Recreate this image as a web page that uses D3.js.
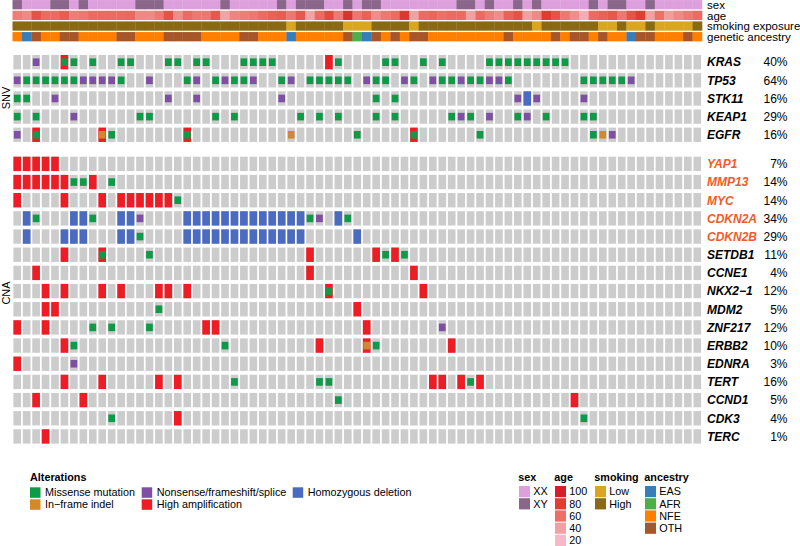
<!DOCTYPE html>
<html><head><meta charset="utf-8">
<script src="https://cdn.jsdelivr.net/npm/d3@7"></script>
<style>
body{margin:0;background:#fff}
svg{display:block;font-family:"Liberation Sans",Arial,Helvetica,sans-serif}
</style>
</head><body>
<svg id="chart" width="800" height="546"></svg>
<script>
// ---------------- DATA ----------------
const samples = d3.range(1, 74).map(i => "S" + i);

const sexRuns = [["XY",1],["XX",3],["XY",2],["XX",1],["XY",1],["XX",5],["XY",3],["XX",6],["XY",1],["XX",5],
  ["XY",1],["XX",1],["XY",3],["XX",2],["XY",1],["XX",1],["XY",2],["XX",8],["XY",2],["XX",1],["XY",1],["XX",2],
  ["XY",1],["XX",1],["XY",1],["XX",5],["XY",1],["XX",1],["XY",2],["XX",2],["XY",1],["XX",5]];

const ageValues = [55,50,72,62,62,68,55,57,62,62,62,62,63,50,50,56,72,48,62,57,57,70,38,52,55,57,62,66,68,57,
  70,38,62,75,56,88,57,66,48,57,62,85,40,62,64,60,62,62,40,62,55,48,66,72,40,50,82,72,57,48,
  30,62,66,70,57,72,80,40,60,42,50,56,62];

const smokingRuns = [["High",29],["Low",1],["High",5],["Low",3],["High",4],["Low",1],["High",12],["Low",1],
  ["High",6],["Low",2],["High",1],["Low",2],["High",1],["Low",4],["High",1]];

const ancestryRuns = [["NFE",1],["EAS",1],["OTH",1],["NFE",2],["OTH",2],["NFE",4],["OTH",2],["NFE",3],["OTH",4],
  ["NFE",4],["OTH",2],["NFE",3],["EAS",1],["NFE",5],["OTH",1],["AFR",1],["EAS",1],["OTH",1],["NFE",1],["OTH",1],
  ["NFE",1],["OTH",2],["NFE",8],["OTH",1],["NFE",4],["OTH",1],["NFE",1],["OTH",2],["NFE",1],["OTH",1],["NFE",2],
  ["EAS",1],["OTH",2],["NFE",3],["OTH",1],["NFE",1]];

// alteration calls: "sampleIndex:codes"  M missense, N nonsense/frameshift/splice, I in-frame indel, A high amp, D homdel
const snvGenes = ["KRAS","TP53","STK11","KEAP1","EGFR"];
const snvCalls = [
 "2:N 5:AM 6:M 8:M 11:M 12:M 16:M 17:M 19:M 20:M 24:M 25:M 26:M 27:M 33:A 34:M 39:M 40:M 43:M 45:M 50:M 51:M 52:M 53:M 54:M 55:M 56:M 57:M 58:M",
 "0:N 1:M 2:M 3:M 4:M 5:M 6:M 7:N 8:N 9:N 10:N 11:M 14:N 18:M 19:N 21:M 22:N 23:M 24:M 25:N 28:M 29:N 31:M 32:M 33:M 34:M 35:M 37:N 38:M 39:M 41:N 42:M 44:N 45:M 46:M 47:N 48:M 49:M 50:N 51:N 52:M 60:M 61:M 62:M 63:M 64:M 65:N",
 "0:M 1:M 4:N 16:N 19:N 28:N 38:M 40:M 53:N 54:D 55:N 60:N",
 "0:M 2:M 6:N 13:M 14:M 21:M 23:M 30:M 32:M 34:M 38:M 40:M 46:M 47:N 48:M 50:N 53:M 54:N 56:M 60:M 61:M",
 "0:N 2:AM 9:AI 10:M 18:AM 29:I 36:M 42:AM 49:M 61:M 62:I 63:N"
];
const cnaGenes = ["YAP1","MMP13","MYC","CDKN2A","CDKN2B","SETDB1","CCNE1","NKX2\u22121","MDM2","ZNF217","ERBB2","EDNRA","TERT","CCND1","CDK3","TERC"];
const cnaCalls = [
 "0:A 1:A 2:A 3:A 4:A",
 "0:A 1:A 2:A 3:A 4:A 5:A 6:M 7:M 8:A 10:M",
 "0:A 5:A 9:A 11:A 12:A 13:A 14:A 15:A 16:A 17:M",
 "1:D 2:M 6:D 7:D 8:M 11:D 12:D 13:N 18:D 19:D 20:D 21:D 22:D 23:D 24:D 25:D 26:D 27:D 28:D 29:D 30:D 31:M 32:N 34:D 35:M",
 "1:D 5:D 6:D 7:D 11:D 12:D 13:M 18:D 19:D 20:D 21:D 22:D 23:D 24:D 25:D 26:D 27:D 28:D 29:D 30:D 36:D",
 "5:A 9:AM 14:M 31:A 38:A 39:M 40:A 41:M",
 "2:A 31:A 42:A",
 "3:A 5:A 9:A 11:A 15:A 16:A 18:A 33:AM 43:A",
 "3:A 4:A 15:M 36:A",
 "0:A 3:A 8:M 10:M 14:M 20:A 21:A 37:A 45:N",
 "5:A 6:M 22:M 32:A 37:AI 38:M 46:A",
 "0:A 6:N",
 "5:A 9:A 15:A 17:A 23:M 32:M 33:M 44:A 45:A 47:A 48:M 49:A",
 "2:A 7:A 34:M 59:A",
 "10:M 17:A 60:M",
 "3:A"
];
const highlightGenes = ["YAP1","MMP13","MYC","CDKN2A","CDKN2B"];

const alterationTypes = ["Missense mutation","Nonsense/frameshift/splice","Homozygous deletion","In\u2212frame indel","High amplification"];
const alterationCodes = ["M","N","D","I","A"];
const alterationColors = ["#0f9a48","#7e4fa2","#4a6bbf","#d3892b","#ee1d25"];

const sexLevels = ["XX","XY"], sexColors = ["#dda0dd","#8b668b"];
const ageTicks = [100,80,60,40,20];
const ageStops = [20,40,60,80,100], ageStopColors = ["#f8b8c8","#f5a0a0","#f06e66","#e23e30","#d41f2a"];
const smokingLevels = ["Low","High"], smokingColors = ["#daa520","#8b6914"];
const ancestryLevels = ["EAS","AFR","NFE","OTH"], ancestryColors = ["#377eb8","#4daf4a","#ff7f00","#a65628"];

// ---------------- HELPERS ----------------
const expand = runs => runs.flatMap(([v, n]) => Array(n).fill(v));
const sex = expand(sexRuns), smoking = expand(smokingRuns), ancestry = expand(ancestryRuns);
const parseCalls = s => s.trim().split(/\s+/).map(t => { const [i, c] = t.split(":"); return {i: +i, codes: c.split("")}; });

const svg = d3.select("#chart");
const x = d3.scaleBand().domain(samples).range([12.5, 702]).padding(0);
const inset = 0.9;
const cellW = x.bandwidth() - 2 * inset;
const labelSize = 12;

const colorAlt = d3.scaleOrdinal().domain(alterationCodes).range(alterationColors);
const colorSex = d3.scaleOrdinal().domain(sexLevels).range(sexColors);
const colorAge = d3.scaleLinear().domain(ageStops).range(ageStopColors).interpolate(d3.interpolateRgb);
const colorSmk = d3.scaleOrdinal().domain(smokingLevels).range(smokingColors);
const colorAnc = d3.scaleOrdinal().domain(ancestryLevels).range(ancestryColors);

// ---------------- ANNOTATIONS ----------------
const tracks = [
  {name: "sex", vals: sex, col: colorSex},
  {name: "age", vals: ageValues, col: colorAge},
  {name: "smoking exposure", vals: smoking, col: colorSmk},
  {name: "genetic ancestry", vals: ancestry, col: colorAnc}
];
const yTrack = d3.scaleBand().domain(tracks.map(t => t.name)).range([-0.6, 42]).paddingInner(0.13).paddingOuter(0.06);
tracks.forEach(t => {
  const g = svg.append("g");
  g.selectAll("rect").data(samples).join("rect")
    .attr("x", d => x(d)).attr("width", x.step() + 0.3)
    .attr("y", yTrack(t.name)).attr("height", yTrack.bandwidth())
    .attr("fill", (d, i) => t.col(t.vals[i]));
  svg.append("text").attr("x", 707).attr("y", yTrack(t.name) + yTrack.bandwidth() / 2)
    .attr("dy", "0.36em").attr("font-size", 11.5).attr("fill", "#000").text(t.name);
});

// ---------------- ONCOPRINT BLOCKS ----------------
function drawBlock(genes, calls, y0, step) {
  const y = d3.scaleBand().domain(genes).range([y0, y0 + step * genes.length]).paddingInner(0.21).paddingOuter(0.105);
  const bh = y.bandwidth();
  const g = svg.append("g");
  genes.forEach((gene, r) => {
    const alts = parseCalls(calls[r]);
    g.append("g").selectAll("rect").data(samples).join("rect")
      .attr("x", d => x(d) + inset).attr("width", cellW)
      .attr("y", y(gene)).attr("height", bh).attr("fill", "#cccccc");
    alts.forEach(a => {
      const sx = x(samples[a.i]);
      a.codes.filter(c => c === "A" || c === "D").forEach(c => {
        g.append("rect").attr("x", sx + inset).attr("width", cellW)
          .attr("y", y(gene)).attr("height", bh).attr("fill", colorAlt(c));
      });
      a.codes.filter(c => c === "M" || c === "N" || c === "I").forEach(c => {
        const mw = cellW * 0.88, mh = bh * 0.53;
        g.append("rect").attr("x", sx + inset + (cellW - mw) / 2).attr("width", mw)
          .attr("y", y(gene) + (bh - mh) / 2).attr("height", mh).attr("fill", colorAlt(c));
      });
    });
    const pct = Math.round(100 * new Set(alts.map(a => a.i)).size / samples.length) + "%";
    svg.append("text").attr("x", 707).attr("y", y(gene) + bh / 2).attr("dy", "0.36em")
      .attr("font-size", labelSize).attr("font-weight", "bold").attr("font-style", "italic")
      .attr("fill", highlightGenes.includes(gene) ? "#f15a29" : "#000").text(gene);
    svg.append("text").attr("x", 787.5).attr("y", y(gene) + bh / 2).attr("dy", "0.36em")
      .attr("font-size", labelSize).attr("text-anchor", "end").attr("fill", "#000").text(pct);
  });
  return y;
}
drawBlock(snvGenes, snvCalls, 53.1, 18.15);
drawBlock(cnaGenes, cnaCalls, 154.8, 18.17);

svg.append("text").attr("transform", "translate(9.5,98) rotate(-90)").attr("text-anchor", "middle")
  .attr("font-size", 11).text("SNV");
svg.append("text").attr("transform", "translate(9.5,293) rotate(-90)").attr("text-anchor", "middle")
  .attr("font-size", 11).text("CNA");

// ---------------- LEGENDS ----------------
const lg = svg.append("g").attr("font-size", 10.8);
lg.append("text").attr("x", 30).attr("y", 481).attr("font-weight", "bold").text("Alterations");
const altPos = [[30,0],[141.7,0],[292.7,0],[30,1],[141.7,1]];
alterationTypes.forEach((t, i) => {
  const [lx, row] = altPos[i];
  const yy = 487.3 + row * 12;
  lg.append("rect").attr("x", lx).attr("y", yy).attr("width", 10.5).attr("height", 10.5).attr("fill", alterationColors[i]);
  lg.append("text").attr("x", lx + 15).attr("y", yy + 5.3).attr("dy", "0.36em").text(t);
});

function discreteLegend(title, lx, labels, colors) {
  lg.append("text").attr("x", lx).attr("y", 480.7).attr("font-weight", "bold").text(title);
  labels.forEach((l, i) => {
    const yy = 486 + i * 12.2;
    lg.append("rect").attr("x", lx + 0.7).attr("y", yy).attr("width", 11).attr("height", 11.2).attr("fill", colors[i]);
    lg.append("text").attr("x", lx + 15).attr("y", yy + 5.6).attr("dy", "0.36em").text(l);
  });
}
discreteLegend("sex", 518.3, sexLevels, sexColors);
discreteLegend("age", 554.3, ageTicks.map(String), ageTicks.map(colorAge));
discreteLegend("smoking", 594.3, smokingLevels, smokingColors);
discreteLegend("ancestry", 644.3, ancestryLevels, ancestryColors);
</script>
</body></html>
